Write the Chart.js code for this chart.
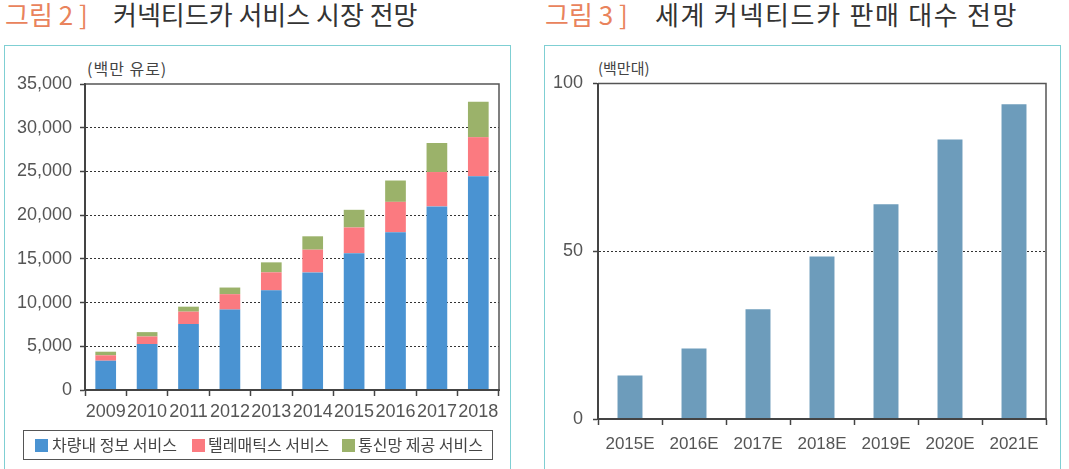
<!DOCTYPE html>
<html><head><meta charset="utf-8">
<script src="https://cdn.jsdelivr.net/npm/chart.js@4.4.0/dist/chart.umd.min.js"></script>
<style>
body{margin:0;width:1069px;height:469px;background:#fff;position:relative;overflow:hidden;font-family:"Noto Sans CJK KR","Noto Sans",sans-serif;}
.title{position:absolute;top:-4px;font-size:26px;font-weight:400;line-height:36px;white-space:nowrap;color:#333;}
.fig{position:absolute;top:-4px;font-size:26px;line-height:36px;white-space:nowrap;color:#e9835c;}
.panel{position:absolute;top:45px;height:430px;border:1.5px solid #7fcfd3;box-sizing:border-box;}
.unit{position:absolute;top:58px;font-size:15px;line-height:20px;color:#444;white-space:nowrap;}
.legend{position:absolute;left:23px;top:430px;width:470px;height:30px;border:1.5px solid #555;box-sizing:border-box;font-size:16px;color:#444;}
.li{position:absolute;top:3px;line-height:20px;white-space:nowrap;}
.sw{position:absolute;width:13px;height:13px;top:8px;}
canvas{position:absolute;}
</style></head>
<body>
<div class="fig" style="left:5px">그림 2 ]</div>
<div class="title" style="left:113px">커넥티드카 서비스 시장 전망</div>
<div class="fig" style="left:545px">그림 3 ]</div>
<div class="title" style="left:655px;letter-spacing:1.7px">세계 커넥티드카 판매 대수 전망</div>
<div class="panel" style="left:4px;width:507px"></div>
<div class="panel" style="left:544px;width:517px"></div>
<div class="unit" style="left:87px;font-size:16px;letter-spacing:1px">(백만 유로)</div>
<div class="unit" style="left:598px">(백만대)</div>
<div style="position:absolute;left:5px;top:46px;width:504px;height:423px"><canvas id="c1"></canvas></div>
<div style="position:absolute;left:545px;top:46px;width:514px;height:423px"><canvas id="c2"></canvas></div>
<div class="legend" id="legend"></div>
<script>
// ---- data ----
const years = ['2009','2010','2011','2012','2013','2014','2015','2016','2017','2018'];
const inVehicleInfo = [3350,5250,7550,9200,11400,13450,15650,18050,21000,24450];
const telematics = [620,870,1410,1760,2060,2600,2940,3470,3930,4470];
const networkProvision = [410,500,570,760,1140,1530,2020,2440,3320,4050];
const seriesNames = ['차량내 정보 서비스','텔레매틱스 서비스','통신망 제공 서비스'];
const seriesColors = ['#4a93d2','#fb7a80','#9bb26a'];
const salesYears = ['2015E','2016E','2017E','2018E','2019E','2020E','2021E'];
const salesUnits = [13,21,32.7,48.4,64,83.3,93.8];

const tickFont = {family:'"Liberation Sans", Arial, sans-serif', size:18};
const frame = {
  id:'frame',
  afterDatasetsDraw(chart){
    const {ctx, chartArea:a} = chart;
    ctx.save();
    ctx.strokeStyle='#555'; ctx.lineWidth=1.5;
    ctx.beginPath();
    ctx.moveTo(a.left,a.top); ctx.lineTo(a.right,a.top); ctx.lineTo(a.right,a.bottom);
    ctx.stroke();
    ctx.strokeStyle='#444'; ctx.lineWidth=2;
    ctx.beginPath();
    ctx.moveTo(a.left,a.top); ctx.lineTo(a.left,a.bottom); ctx.lineTo(a.right,a.bottom);
    ctx.stroke();
    ctx.restore();
  }
};

function yGrid(max){
  return {
    color:(c)=> (c.tick && (c.tick.value===0 || c.tick.value===max)) ? 'rgba(0,0,0,0)' : '#333',
    lineWidth:1, tickLength:5, tickColor:'#444', tickWidth:1.5, tickBorderDash:[]
  };
}

new Chart(document.getElementById('c1'), {
  type:'bar',
  data:{labels:years, datasets:[
    {label:seriesNames[0], data:inVehicleInfo, backgroundColor:seriesColors[0]},
    {label:seriesNames[1], data:telematics, backgroundColor:seriesColors[1]},
    {label:seriesNames[2], data:networkProvision, backgroundColor:seriesColors[2]}
  ]},
  options:{
    responsive:true, maintainAspectRatio:false, animation:false,
    layout:{padding:{top:38,right:10,left:0,bottom:0}},
    plugins:{legend:{display:false}, tooltip:{enabled:false}},
    datasets:{bar:{categoryPercentage:0.5, barPercentage:1}},
    scales:{
      x:{stacked:true, afterFit:(s)=>{s.height=79;},
        grid:{drawOnChartArea:false, tickLength:6, tickColor:'#444', tickWidth:1.5, offset:true},
        border:{color:'#444', width:2},
        ticks:{font:tickFont, color:'#555', padding:5, maxRotation:0, autoSkip:false}},
      y:{stacked:true, min:0, max:35000, afterFit:(s)=>{s.width=80;},
        grid:yGrid(35000),
        border:{color:'#444', width:2, dash:[2,2]},
        ticks:{stepSize:5000, font:tickFont, color:'#555', padding:8}}
    }
  },
  plugins:[frame]
});

new Chart(document.getElementById('c2'), {
  type:'bar',
  data:{labels:salesYears, datasets:[
    {label:'판매 대수', data:salesUnits, backgroundColor:'#6d9cbb'}
  ]},
  options:{
    responsive:true, maintainAspectRatio:false, animation:false,
    layout:{padding:{top:37.5,right:13,left:0,bottom:0}},
    plugins:{legend:{display:false}, tooltip:{enabled:false}},
    datasets:{bar:{categoryPercentage:0.39, barPercentage:1}},
    scales:{
      x:{afterFit:(s)=>{s.height=50;},
        grid:{drawOnChartArea:false, tickLength:6, tickColor:'#444', tickWidth:1.5, offset:true},
        border:{color:'#444', width:2},
        ticks:{font:{family:tickFont.family,size:17}, color:'#555', padding:9, maxRotation:0, autoSkip:false}},
      y:{min:0, max:100, afterFit:(s)=>{s.width=53;},
        grid:yGrid(100),
        border:{color:'#444', width:2, dash:[2,2]},
        ticks:{stepSize:50, font:tickFont, color:'#555', padding:10}}
    }
  },
  plugins:[frame]
});

// legend (HTML)
const lg = document.getElementById('legend');
const pos = [[11,28],[168,184],[318,334]];
seriesNames.forEach((n,i)=>{
  const s=document.createElement('div'); s.className='sw'; s.style.left=pos[i][0]+'px'; s.style.background=seriesColors[i]; lg.appendChild(s);
  const t=document.createElement('div'); t.className='li'; t.style.left=pos[i][1]+'px'; t.textContent=n; lg.appendChild(t);
});
</script>
</body></html>
